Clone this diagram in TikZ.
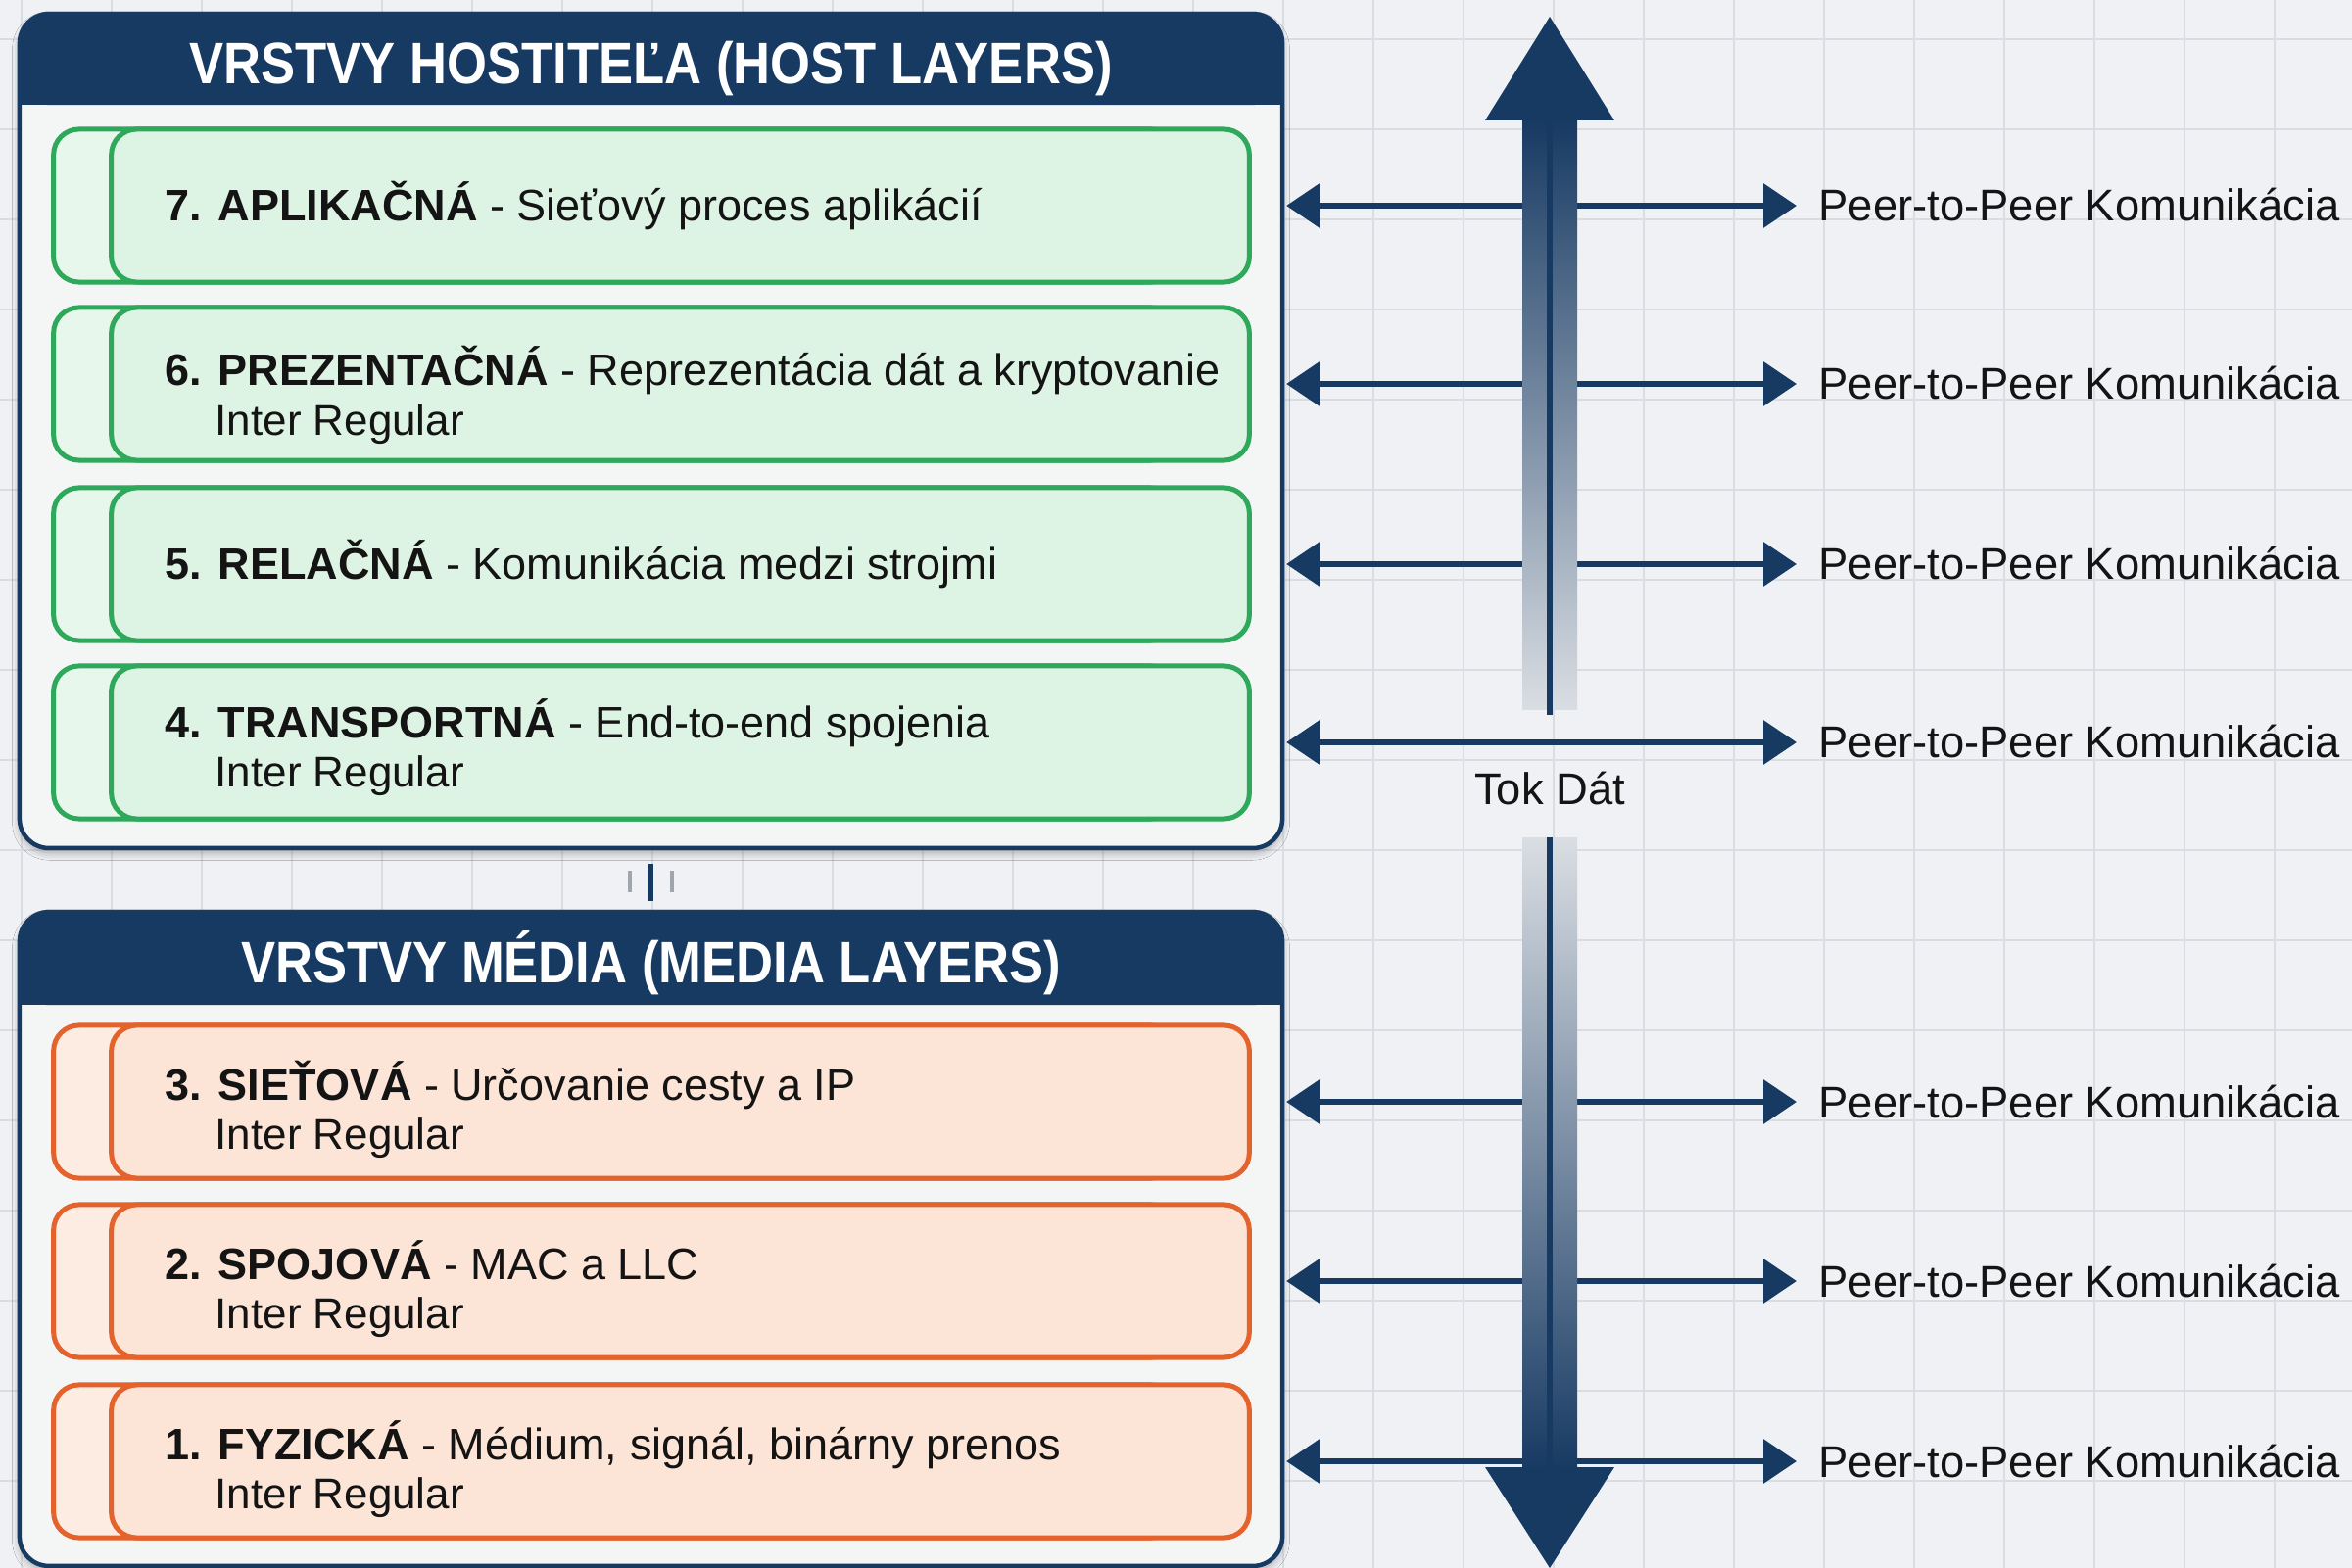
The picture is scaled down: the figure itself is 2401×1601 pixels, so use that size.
\documentclass[tikz,border=0pt]{standalone}
\usepackage{fontspec}
\setmainfont{Liberation Sans}
\newfontfamily\headfont[FakeStretch=0.88]{Liberation Sans}
\usetikzlibrary{arrows.meta,shadows.blur}

\definecolor{navy}{HTML}{173A63}
\definecolor{canvasbg}{HTML}{EFF1F4}
\definecolor{gridline}{HTML}{D9DDE2}
\definecolor{panelbody}{HTML}{F4F6F6}
\definecolor{hostfill}{HTML}{DDF3E3}
\definecolor{hostline}{HTML}{2EA85A}
\definecolor{mediafill}{HTML}{FCE4D6}
\definecolor{medialine}{HTML}{E4622B}
\definecolor{ink}{HTML}{141414}
\definecolor{shaftfade}{HTML}{DADEE3}
\definecolor{tickgray}{HTML}{A0A5AC}

\begin{document}
\begin{tikzpicture}[x=0.01cm, y=-0.01cm,
  panel/.style={fill=panelbody, rounded corners=0.3cm, inner sep=0pt,
    minimum width=12.87cm,
    blur shadow={shadow xshift=0cm, shadow yshift=-0.05cm,
      shadow blur radius=0.08cm, shadow opacity=35}},
  panelrim/.style={draw=navy, line width=0.045cm, rounded corners=0.3cm},
  headtext/.style={anchor=base, inner sep=0pt, text=white,
    font=\headfont\bfseries\fontsize{17}{20}\selectfont},
  layerbox/.style={line width=0.05cm, rounded corners=0.26cm, inner sep=0pt,
    minimum height=1.56cm},
  hosttab/.style={layerbox, draw=hostline, fill=hostfill!70!white, minimum width=11.45cm},
  hostface/.style={layerbox, draw=hostline, fill=hostfill, minimum width=11.61cm},
  mediatab/.style={layerbox, draw=medialine, fill=mediafill!70!white, minimum width=11.45cm},
  mediaface/.style={layerbox, draw=medialine, fill=mediafill, minimum width=11.61cm},
  layertext/.style={anchor=base west, inner sep=0pt, text=ink,
    font=\fontsize{12.8}{15}\selectfont},
  subtext/.style={anchor=base west, inner sep=0pt, text=ink,
    font=\fontsize{12.5}{15}\selectfont},
  peer/.style={anchor=base west, inner sep=0pt, text=ink,
    font=\fontsize{12.9}{15}\selectfont},
  p2p/.style={draw=navy, line width=0.065cm,
    {Triangle[length=0.34cm,width=0.44cm]}-{Triangle[length=0.34cm,width=0.44cm]}},
  shaftline/.style={draw=navy, line width=0.06cm},
]

% canvas and grid
\useasboundingbox (0,0) rectangle (2401,1601);
\fill[canvasbg] (0,0) rectangle (2401,1601);
\foreach \gx in {0,...,25} {
  \draw[gridline, line width=0.02cm] (22+92*\gx,0) -- (22+92*\gx,1601);
}
\foreach \gy in {0,...,17} {
  \draw[gridline, line width=0.02cm] (0,40+92*\gy) -- (2401,40+92*\gy);
}

% ---------- host layers panel ----------
\node[panel, minimum height=8.5cm] (host) at (664.5,440) {};
\fill[navy, rounded corners=0.3cm] (host.north west) rectangle ([yshift=-0.93cm]host.north east);
\fill[navy] ([yshift=-0.5cm]host.north west) rectangle ([yshift=-0.93cm]host.north east);
\draw[panelrim] (host.north west) rectangle (host.south east);
\node[headtext] (hosttitle) at (664.5,86) {VRSTVY HOSTITEĽA (HOST LAYERS)};

\node[hosttab]  (b7) at (627.5,210) {};
\node[hostface] (f7) at (694.5,210) {};
\node[hosttab]  (b6) at (627.5,392) {};
\node[hostface] (f6) at (694.5,392) {};
\node[hosttab]  (b5) at (627.5,576) {};
\node[hostface] (f5) at (694.5,576) {};
\node[hosttab]  (b4) at (627.5,758) {};
\node[hostface] (f4) at (694.5,758) {};

\node[layertext] (t7) at (168,226) {\textbf{7. APLIKAČNÁ} - Sieťový proces aplikácií};
\node[layertext] (t6) at (168,394) {\textbf{6. PREZENTAČNÁ} - Reprezentácia dát a kryptovanie};
\node[subtext]   (s6) at (219,445) {Inter Regular};
\node[layertext] (t5) at (168,592) {\textbf{5. RELAČNÁ} - Komunikácia medzi strojmi};
\node[layertext] (t4) at (168,754) {\textbf{4. TRANSPORTNÁ} - End-to-end spojenia};
\node[subtext]   (s4) at (219,804) {Inter Regular};

% divider marks between the panels
\draw[tickgray, line width=0.04cm] (643,889) -- (643,911);
\draw[tickgray, line width=0.04cm] (686,889) -- (686,911);
\draw[navy, line width=0.05cm] (664,882) -- (664,920);

% ---------- media layers panel ----------
\node[panel, minimum height=6.66cm] (media) at (664.5,1265) {};
\fill[navy, rounded corners=0.3cm] (media.north west) rectangle ([yshift=-0.95cm]media.north east);
\fill[navy] ([yshift=-0.5cm]media.north west) rectangle ([yshift=-0.95cm]media.north east);
\draw[panelrim] (media.north west) rectangle (media.south east);
\node[headtext] (mediatitle) at (664.5,1003) {VRSTVY MÉDIA (MEDIA LAYERS)};

\node[mediatab]  (b3) at (627.5,1125) {};
\node[mediaface] (f3) at (694.5,1125) {};
\node[mediatab]  (b2) at (627.5,1308) {};
\node[mediaface] (f2) at (694.5,1308) {};
\node[mediatab]  (b1) at (627.5,1492) {};
\node[mediaface] (f1) at (694.5,1492) {};

\node[layertext] (t3) at (168,1123) {\textbf{3. SIEŤOVÁ} - Určovanie cesty a IP};
\node[subtext]   (s3) at (219,1173) {Inter Regular};
\node[layertext] (t2) at (168,1306) {\textbf{2. SPOJOVÁ} - MAC a LLC};
\node[subtext]   (s2) at (219,1356) {Inter Regular};
\node[layertext] (t1) at (168,1490) {\textbf{1. FYZICKÁ} - Médium, signál, binárny prenos};
\node[subtext]   (s1) at (219,1540) {Inter Regular};

% ---------- peer-to-peer links ----------
\foreach \k/\ry in {7/210,6/392,5/576,4/758,3/1125,2/1308,1/1492} {
  \node[peer] (p\k) at (1856,\ry+16) {Peer-to-Peer Komunikácia};
  \coordinate (a\k) at ([xshift=0.04cm]host.east |- f\k.center);
  \draw[p2p] (a\k) -- ([xshift=-0.22cm]a\k -| p\k.west);
}

% ---------- data flow arrow ----------
\shade[top color=navy, middle color=navy!55!shaftfade, bottom color=shaftfade]
  (1554,123) rectangle (1610,725);
\shade[top color=shaftfade, middle color=navy!55!shaftfade, bottom color=navy]
  (1554,855) rectangle (1610,1500);
\draw[shaftline] (1582,123) -- (1582,730);
\draw[shaftline] (1582,855) -- (1582,1500);
\coordinate (flowtop) at (1582,17);
\coordinate (flowbottom) at (1582,1601);
\fill[navy] (1516,123) -- (flowtop) -- (1648,123) -- cycle;
\fill[navy] (1516,1498) -- (flowbottom) -- (1648,1498) -- cycle;
\node[peer, anchor=base] (flow) at (1582,821) {Tok Dát};

\end{tikzpicture}
\end{document}
